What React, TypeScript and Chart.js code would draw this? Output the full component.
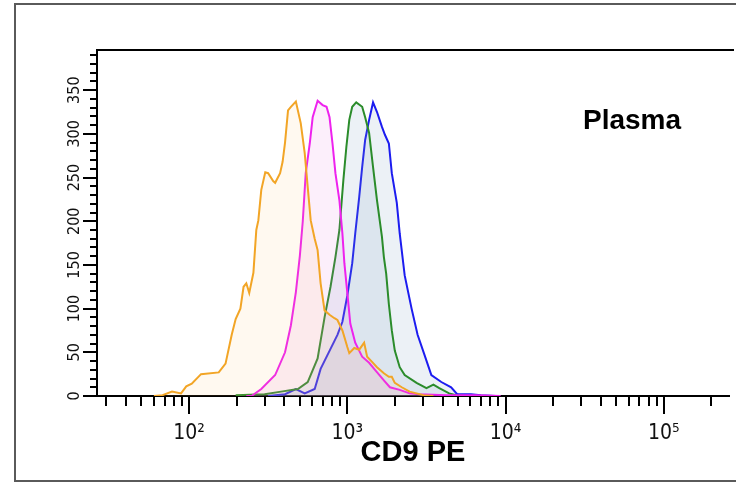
import React, { useEffect, useRef } from "react";
import { Chart, registerables } from "chart.js";

Chart.register(...registerables);

// ---- data (x = CD9 PE intensity, y = count) ----
const orangeSeries: [number, number][] = [
  [60, 0], [68, 1], [78, 5], [89, 3], [96, 11], [104, 14], [119, 25], [154, 27], [170, 37],
  [186, 70], [197, 88], [211, 100], [221, 125], [230, 129], [240, 118], [255, 141], [266, 190],
  [274, 201], [286, 236], [303, 256], [316, 255], [340, 246], [350, 244], [376, 255], [390, 268],
  [404, 290], [422, 327], [440, 331], [473, 337], [508, 312], [538, 278], [562, 239], [587, 201],
  [622, 180], [649, 167], [678, 129], [718, 98], [772, 93], [829, 89], [866, 87], [931, 75],
  [1000, 56], [1029, 49], [1106, 55], [1189, 53], [1277, 61], [1334, 45], [1433, 39], [1540, 33],
  [1702, 26], [1830, 22], [1910, 22], [1995, 15], [2208, 10], [2475, 5], [2738, 3], [3028, 1], [3500, 0],
];

const magentaSeries: [number, number][] = [
  [230, 0], [248, 0], [286, 8], [350, 24], [404, 50], [440, 81], [473, 119], [501, 160], [523, 200],
  [546, 255], [579, 289], [604, 319], [649, 338], [698, 333], [739, 331], [772, 319], [806, 289],
  [841, 255], [891, 224], [931, 186], [958, 152], [1000, 118], [1044, 83], [1122, 61], [1241, 45],
  [1373, 38], [1496, 30], [1702, 18], [1858, 10], [2143, 7], [2475, 3], [2858, 2], [4217, 1],
  [6494, 1], [9310, 0],
];

const greenSeries: [number, number][] = [
  [197, 1], [300, 2], [381, 5], [487, 8], [562, 16], [649, 43], [718, 90], [783, 125], [841, 159],
  [891, 190], [944, 247], [986, 285], [1029, 316], [1074, 331], [1138, 336], [1241, 331], [1296, 319],
  [1373, 301], [1454, 262], [1540, 224], [1655, 182], [1702, 159], [1760, 140], [1830, 105], [1910, 75],
  [1995, 52], [2143, 33], [2304, 24], [2738, 15], [3162, 9], [3499, 13], [3811, 9], [4400, 3],
  [4870, 1], [5500, 0],
];

const blueSeries: [number, number][] = [
  [316, 0], [404, 2], [473, 8], [538, 3], [622, 8], [678, 31], [783, 54], [866, 70], [931, 85],
  [1000, 115], [1074, 152], [1122, 186], [1189, 228], [1241, 262], [1296, 293], [1373, 316],
  [1454, 336], [1540, 325], [1655, 308], [1728, 299], [1830, 289], [1910, 255], [2054, 221],
  [2143, 186], [2304, 138], [2547, 100], [2780, 70], [3073, 47], [3396, 24], [3926, 16], [4529, 10],
  [4943, 2], [6043, 2], [6976, 1], [8660, 0],
];

const X_MIN = 26.2;
const X_MAX = 258000;
const Y_MAX = 396;
const Y_STEP = 10;
const Y_LABEL_STEP = 50;
const SUPERSCRIPTS: Record<number, string> = { 1: "¹", 2: "²", 3: "³", 4: "⁴", 5: "⁵" };
const X_TITLE = "CD9 PE";
const PANEL_LABEL = "Plasma";

const TICK_FONT = "'Liberation Sans Narrow', 'DejaVu Sans Condensed', 'Liberation Sans', sans-serif";
const BOLD_FONT = "'Liberation Sans', Arial, Helvetica, sans-serif";

const isDecade = (v: number) => {
  const l = Math.log10(v);
  return Math.abs(l - Math.round(l)) < 1e-9;
};
const isNice = (v: number) => {
  const e = Math.floor(Math.log10(v) + 1e-9);
  const s = v / Math.pow(10, e);
  return Math.abs(s - Math.round(s)) < 1e-6;
};

const framePlugin = {
  id: "flowFrame",
  afterDraw(chart: any) {
    const { ctx, chartArea } = chart;
    const xs = chart.scales.x;
    const ys = chart.scales.y;
    ctx.save();
    // outer panel frame
    ctx.strokeStyle = "#5a5a5a";
    ctx.lineWidth = 2;
    ctx.beginPath();
    ctx.moveTo(chart.width + 5, 4);
    ctx.lineTo(15, 4);
    ctx.lineTo(15, 481);
    ctx.lineTo(chart.width + 5, 481);
    ctx.stroke();
    // plot top border
    ctx.strokeStyle = "#000";
    ctx.beginPath();
    ctx.moveTo(chartArea.left - 1, chartArea.top);
    ctx.lineTo(chartArea.right + 5, chartArea.top);
    ctx.stroke();
    // x tick marks
    ctx.lineWidth = 2;
    for (const t of xs.ticks) {
      const v = t.value;
      if (v <= X_MIN || v >= X_MAX || !isNice(v)) continue;
      const px = Math.round(xs.getPixelForValue(v));
      const len = isDecade(v) ? 18 : 10;
      ctx.beginPath();
      ctx.moveTo(px, chartArea.bottom);
      ctx.lineTo(px, chartArea.bottom + len);
      ctx.stroke();
    }
    // y tick marks
    for (const t of ys.ticks) {
      const v = t.value;
      const py = Math.round(ys.getPixelForValue(v));
      const len = v % Y_LABEL_STEP === 0 ? 14 : 7;
      ctx.beginPath();
      ctx.moveTo(chartArea.left, py);
      ctx.lineTo(chartArea.left - len, py);
      ctx.stroke();
    }
    // panel label
    ctx.fillStyle = "#000";
    ctx.font = `bold 28px ${BOLD_FONT}`;
    ctx.textAlign = "left";
    ctx.textBaseline = "alphabetic";
    ctx.fillText(PANEL_LABEL, chartArea.left + 486, chartArea.top + 79);
    ctx.restore();
  },
};

const toPoints = (s: [number, number][]) => s.map(([x, y]) => ({ x, y }));

export default function App() {
  const ref = useRef<HTMLCanvasElement | null>(null);
  useEffect(() => {
    if (!ref.current) return;
    const chart = new Chart(ref.current, {
      type: "line",
      data: {
        datasets: [
          {
            label: "orange",
            data: toPoints(orangeSeries),
            borderColor: "#f2a526",
            backgroundColor: "rgba(250,185,90,0.09)",
            fill: "origin",
          },
          {
            label: "magenta",
            data: toPoints(magentaSeries),
            borderColor: "#ee22ee",
            backgroundColor: "rgba(225,110,215,0.11)",
            fill: "origin",
          },
          {
            label: "green",
            data: toPoints(greenSeries),
            borderColor: "#2b8c2b",
            backgroundColor: "rgba(130,160,195,0.15)",
            fill: "origin",
          },
          {
            label: "blue",
            data: toPoints(blueSeries),
            borderColor: "#1c1cf0",
            backgroundColor: "rgba(130,160,195,0.15)",
            fill: "origin",
          },
        ],
      },
      options: {
        animation: false,
        responsive: false,
        events: [],
        layout: { padding: { top: 50, left: 0, right: 0, bottom: 0 } },
        elements: {
          point: { radius: 0 },
          line: { tension: 0, borderWidth: 2 },
        },
        plugins: {
          legend: { display: false },
          tooltip: { enabled: false },
        },
        scales: {
          x: {
            type: "logarithmic",
            position: "bottom",
            min: X_MIN,
            max: X_MAX,
            afterFit: (s: any) => {
              s.height = 87;
            },
            border: { display: true, color: "#000", width: 2 },
            grid: {
              display: true,
              drawOnChartArea: false,
              drawTicks: true,
              tickLength: 18,
              tickColor: "rgba(0,0,0,0)",
            },
            ticks: {
              autoSkip: false,
              maxRotation: 0,
              minRotation: 0,
              padding: 7,
              color: "#111",
              font: { family: TICK_FONT, size: 21 },
              callback: (value: any) => {
                const v = Number(value);
                if (!isDecade(v)) return "";
                const e = Math.round(Math.log10(v));
                return "10" + (SUPERSCRIPTS[e] || "");
              },
            },
            title: {
              display: true,
              text: X_TITLE,
              color: "#000",
              font: { family: BOLD_FONT, size: 29, weight: "bold", lineHeight: 1.2 },
              padding: { top: 0, bottom: 13 },
            },
          },
          y: {
            type: "linear",
            min: 0,
            max: Y_MAX,
            afterFit: (s: any) => {
              s.width = 97;
            },
            border: { display: true, color: "#000", width: 2 },
            grid: {
              display: true,
              drawOnChartArea: false,
              drawTicks: true,
              tickLength: 8,
              tickColor: "rgba(0,0,0,0)",
            },
            ticks: {
              stepSize: Y_STEP,
              includeBounds: false,
              autoSkip: false,
              minRotation: 90,
              maxRotation: 90,
              crossAlign: "center",
              padding: 0,
              color: "#111",
              font: { family: TICK_FONT, size: 16 },
              callback: (value: any) => {
                const v = Number(value);
                return v % Y_LABEL_STEP === 0 ? String(v) : "";
              },
            },
          },
        },
      },
      plugins: [framePlugin],
    } as any);
    return () => chart.destroy();
  }, []);

  return (
    <div
      style={{
        position: "fixed",
        left: 0,
        top: 0,
        width: 736,
        height: 483,
        overflow: "hidden",
        background: "#fff",
      }}
    >
      <canvas ref={ref} width={736} height={483} style={{ width: 736, height: 483, display: "block" }} />
    </div>
  );
}
